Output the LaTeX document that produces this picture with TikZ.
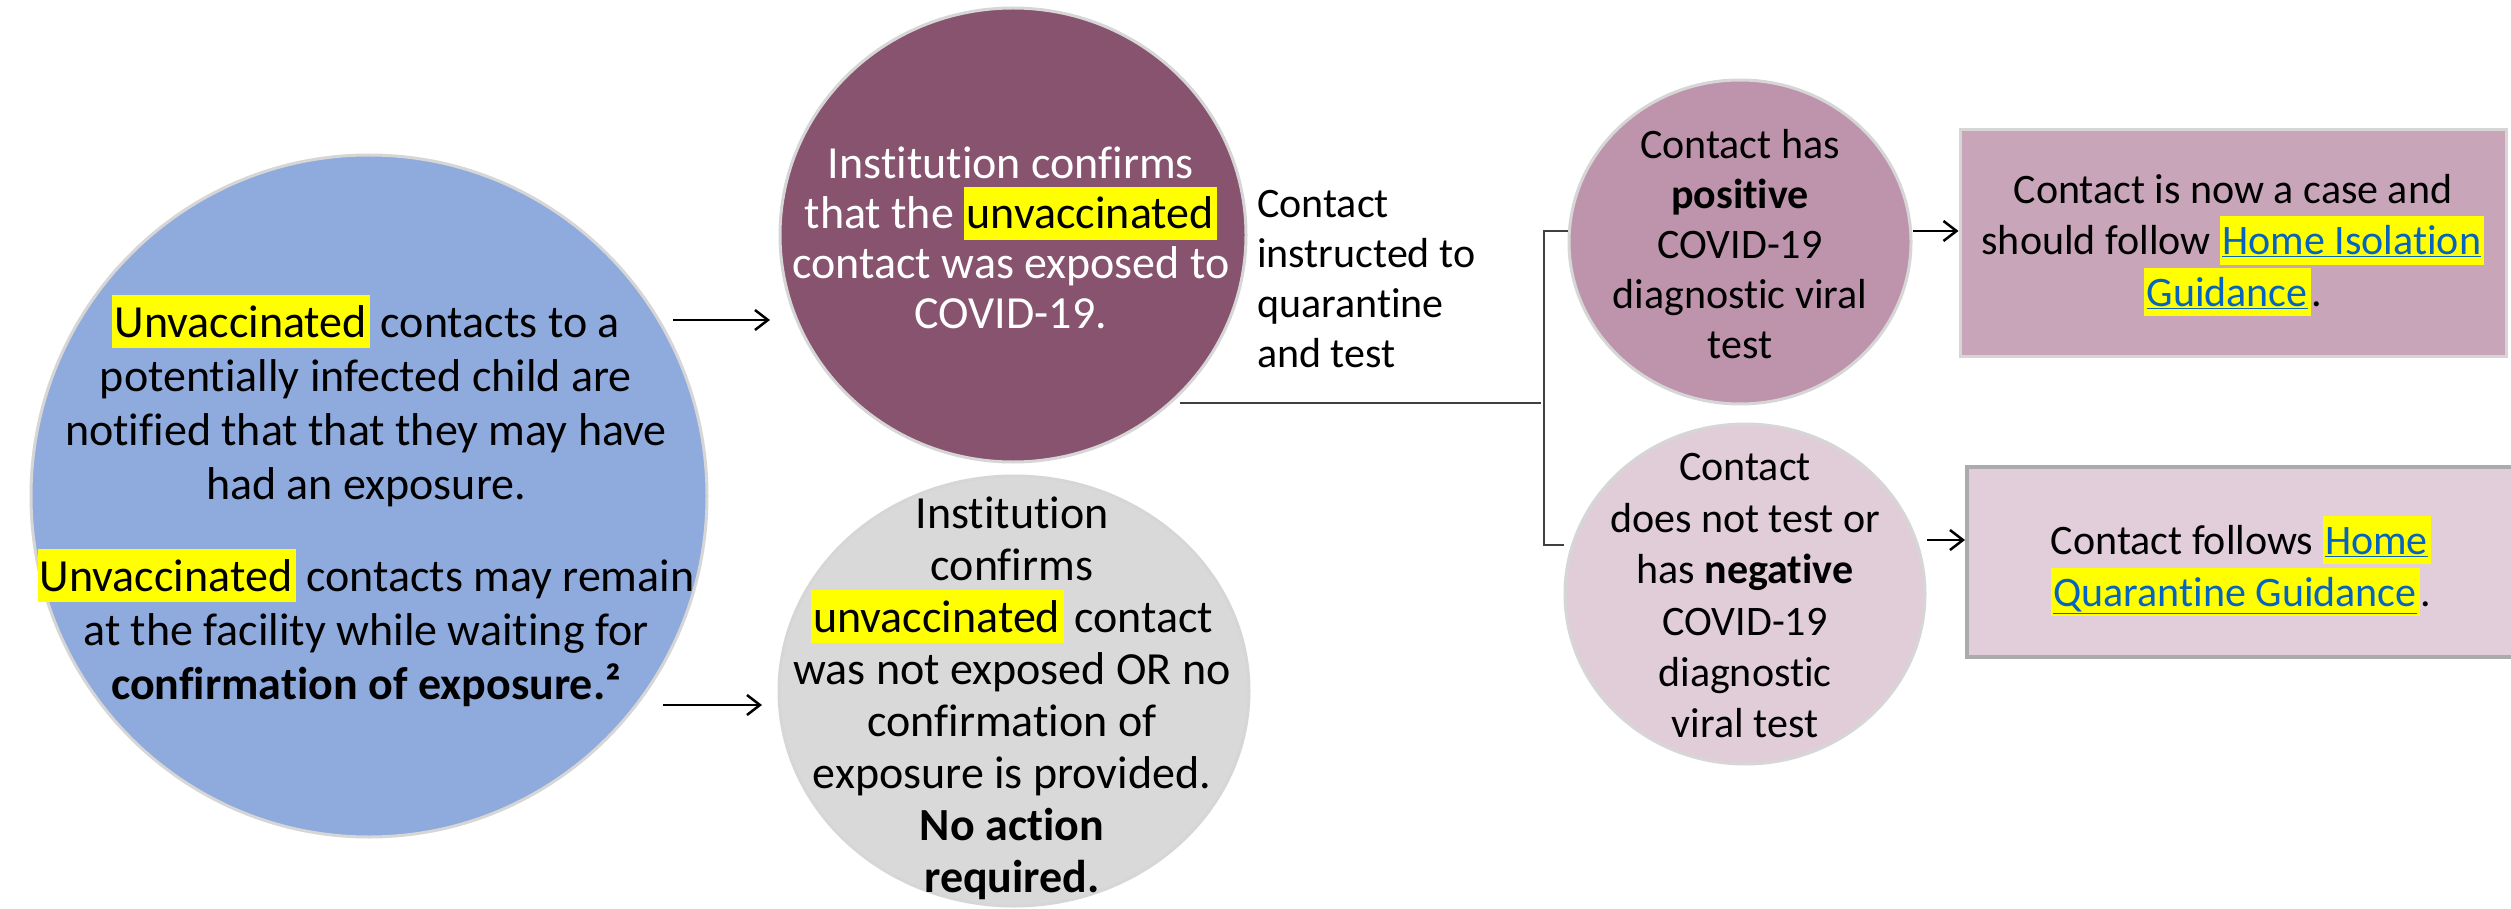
\documentclass[tikz,border=0pt]{standalone}
\usepackage{fontspec}
\setmainfont{Carlito}[Ligatures=NoCommon]
\usetikzlibrary{arrows.meta,shapes.geometric}
\definecolor{cblue}{HTML}{8FAADC}
\definecolor{cpurple}{HTML}{87536F}
\definecolor{cgray}{HTML}{D9D9D9}
\definecolor{cpos}{HTML}{BE94AC}
\definecolor{cneg}{HTML}{E0CDD8}
\definecolor{cboxa}{HTML}{C8A5B9}
\definecolor{cboxb}{HTML}{E1CEDA}
\definecolor{hly}{HTML}{FFFF00}
\definecolor{linkblue}{HTML}{0563C1}
\definecolor{edgec}{HTML}{D6D6D6}
\newcommand\hl[1]{{\setlength{\fboxsep}{0pt}\colorbox{hly}{\rule[-0.24em]{0pt}{1.15em}\kern0.05em#1\kern0.08em}}}
\newcommand\lnk[1]{\textcolor{linkblue}{\underline{#1}}}
\tikzset{
  blob/.style={ellipse, inner sep=0pt, draw=edgec, line width=3pt},
  txt/.style={align=center, inner sep=0pt},
  arr/.style={line width=2.5pt, -{Straight Barb[length=13pt,width=20pt,line width=2.5pt]}},
  conn/.style={line width=2pt, draw=black!75},
  boxn/.style={rectangle, inner sep=0pt}
}
\begin{document}
\begin{tikzpicture}[x=1pt,y=-1pt]
\useasboundingbox (0,0) rectangle (2511,909);
\fill[white] (0,0) rectangle (2511,909);
% shapes
\node[blob, fill=cblue, minimum width=676, minimum height=682] (blue) at (369,496) {};
\node[blob, fill=cpurple, minimum width=466, minimum height=454] (purple) at (1013,235) {};
\node[blob, fill=cgray, minimum width=470, minimum height=430] (gray) at (1014,691) {};
\node[blob, fill=cpos, minimum width=342, minimum height=324] (pos) at (1740,242) {};
\node[blob, fill=cneg, minimum width=360, minimum height=340] (neg) at (1745,594) {};
\node[boxn, fill=cboxa, draw=edgec, line width=3pt, minimum width=546, minimum height=226] (boxa) at (2233,243) {};
\node[boxn, fill=cboxb, draw=black!33, line width=4pt, minimum width=550, minimum height=190] (boxb) at (2242,562) {};
% texts
\node[txt, font=\fontsize{46}{54}\selectfont] (bluet) at (366,501) {%
\hl{Unvaccinated} contacts to a\\
potentially infected child are\\
notified that that they may have\\
had an exposure.\\[38pt]
\hl{Unvaccinated} contacts may remain\\
at the facility while waiting for\\
\textbf{confirmation of exposure.²}};
\node[txt, text=white, font=\fontsize{46}{50}\selectfont] (purplet) at (1011,238) {%
Institution confirms\\
that the \hl{\textcolor{black}{unvaccinated}}\\
contact was exposed to\\
COVID-19.};
\node[txt, font=\fontsize{46}{52}\selectfont] (grayt) at (1012,698) {%
Institution\\
confirms\\
\hl{unvaccinated} contact\\
was not exposed OR no\\
confirmation of\\
exposure is provided.\\
\textbf{No action}\\
\textbf{required.}};
\node[txt, align=left, anchor=west, font=\fontsize{42}{50.3}\selectfont] (instr) at (1257,279) {%
Contact\\
instructed to\\
quarantine\\
and test};
\node[txt, font=\fontsize{42}{50}\selectfont] (post) at (1740,244) {%
Contact has\\
\textbf{positive}\\
COVID-19\\
diagnostic viral\\
test};
\node[txt, font=\fontsize{42}{51.4}\selectfont] (negt) at (1745,596) {%
Contact\\
does not test or\\
has \textbf{negative}\\
COVID-19\\
diagnostic\\
viral test};
\node[txt, font=\fontsize{42}{51.5}\selectfont] (boxat) at (2233,245) {%
Contact is now a case and\\
should follow \hl{\lnk{Home Isolation}}\\
\hl{\lnk{Guidance}}.};
\node[txt, font=\fontsize{42}{52}\selectfont] (boxbt) at (2241,566) {%
Contact follows \hl{\lnk{Home}}\\
\hl{\lnk{Quarantine Guidance}}.};
% connectors
\coordinate (a1s) at (673,320);
\coordinate (a1e) at (770,320);
\coordinate (a2s) at (663,705);
\coordinate (a2e) at (762,705);
\coordinate (jx) at (1541,403);
\draw[arr] (a1s) -- (a1e);
\draw[arr] (a2s) -- (a2e);
\draw[conn] (jx -| purple.-44) -- (jx);
\draw[conn] (pos.west |- 0,231) -- (1544,231) |- (neg.west |- 0,545);
\draw[arr] (pos.east |- 0,231) -- (boxa.west |- 0,231);
\draw[arr] (neg.east |- 0,540) -- (boxb.west |- 0,540);
\end{tikzpicture}
\end{document}
